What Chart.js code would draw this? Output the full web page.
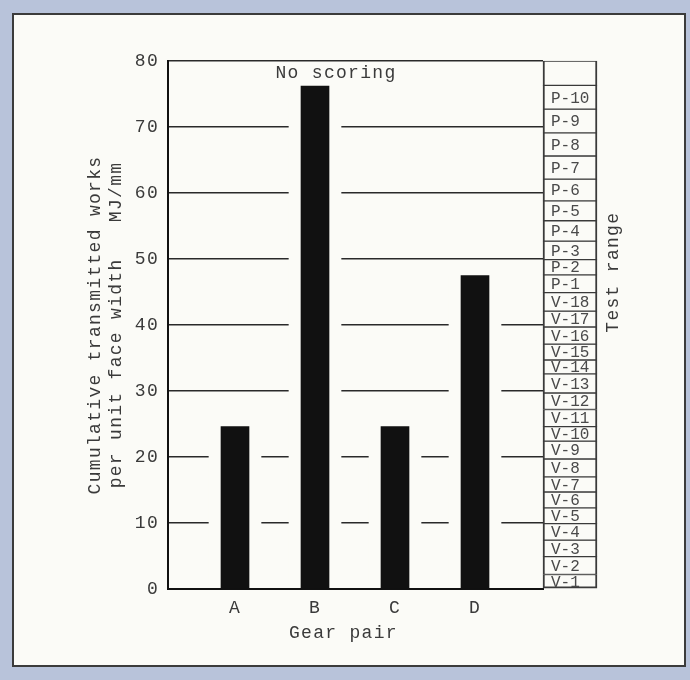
<!DOCTYPE html>
<html>
<head>
<meta charset="utf-8">
<script src="https://cdn.jsdelivr.net/npm/chart.js@4"></script>
<style>
  html, body { margin: 0; padding: 0; }
  body { width: 690px; height: 680px; background: #b8c3da; position: relative; overflow: hidden; }
  #panel { position: absolute; left: 12px; top: 13px; width: 674px; height: 654px; box-sizing: border-box;
           border: 2px solid #3b3b3b; background: #fbfbf7; }
  #gearChart { position: absolute; left: 0; top: 0; }
</style>
</head>
<body>
<div id="panel"></div>
<canvas id="gearChart" width="690" height="680"></canvas>
<script>
// gear pairs and cumulative transmitted work (MJ/mm)
const gearPairs = ['A', 'B', 'C', 'D'];
const cumulativeWork = [24.6, 76.2, 24.6, 47.5];

// test range column: stage names and their upper bounds (MJ/mm)
const testLabels = ['V-1', 'V-2', 'V-3', 'V-4', 'V-5', 'V-6', 'V-7', 'V-8', 'V-9', 'V-10',
    'V-11', 'V-12', 'V-13', 'V-14', 'V-15', 'V-16', 'V-17', 'V-18',
    'P-1', 'P-2', 'P-3', 'P-4', 'P-5', 'P-6', 'P-7', 'P-8', 'P-9', 'P-10', ''];
const testBounds = [0, 2.2, 4.9, 7.4, 9.9, 12.3, 14.7, 17.0, 19.7, 22.4, 24.6,
    27.2, 29.7, 32.6, 34.7, 37.1, 39.7, 42.1, 44.9, 47.6,
    49.9, 52.7, 55.8, 58.8, 62.1, 65.6, 69.1, 72.7, 76.3, 80];

const yTicks = [0, 10, 20, 30, 40, 50, 60, 70, 80];

const ink = '#3a3a3a';
const paper = '#fbfbf7';
const mono = "'Liberation Mono', 'DejaVu Sans Mono', monospace";

// x positions (linear scale, one unit per gear pair)
const xMin = -0.8375, xMax = 3.85;
const testColumnX = 4.1875;

const testBoxes = testLabels.map((l, i) => ({ x: testColumnX, y: [testBounds[i], testBounds[i + 1]] }));

const labelsPlugin = {
    id: 'labels',
    beforeDraw(chart) {
        chart.ctx.letterSpacing = '1.3px';
    },
    afterDatasetsDraw(chart) {
        const ctx = chart.ctx;
        const x = chart.scales.x, y = chart.scales.y;
        ctx.save();
        ctx.fillStyle = ink;
        ctx.textBaseline = 'middle';

        // No scoring
        ctx.font = '18px ' + mono;
        ctx.textAlign = 'center';
        ctx.fillText('No scoring', x.getPixelForValue(1.2625), y.getPixelForValue(78.2));

        // test range boxes
        ctx.letterSpacing = '0px';
        ctx.font = '16px ' + mono;
        ctx.textAlign = 'left';
        ctx.fillStyle = '#4a4a4a';
        const left = x.getPixelForValue(testColumnX) - 27;
        testLabels.forEach((l, i) => {
            const yc = (y.getPixelForValue(testBounds[i]) + y.getPixelForValue(testBounds[i + 1])) / 2;
            ctx.fillText(l, left + 8, yc + 1);
        });

        // Test range title
        ctx.letterSpacing = '1.3px';
        ctx.font = '18px ' + mono;
        ctx.fillStyle = ink;
        ctx.translate(x.getPixelForValue(4.725), y.getPixelForValue(48));
        ctx.rotate(-Math.PI / 2);
        ctx.textAlign = 'center';
        ctx.fillText('Test range', 0, 0);
        ctx.restore();
    }
};

new Chart(document.getElementById('gearChart'), {
    type: 'bar',
    data: {
        datasets: [
            {
                // white gaps in the grid around each bar
                data: cumulativeWork.map((v, i) => ({ x: i, y: [0.5, v] })),
                backgroundColor: paper,
                barThickness: 52,
                order: 3
            },
            {
                data: cumulativeWork.map((v, i) => ({ x: i, y: v })),
                backgroundColor: '#111',
                barThickness: 28,
                order: 2
            },
            {
                data: testBoxes,
                backgroundColor: paper,
                borderColor: ink,
                borderWidth: (c) => ({ top: 1, bottom: c.dataIndex === 0 ? 2 : 1, left: 2, right: 2 }),
                borderSkipped: false,
                barThickness: 54,
                clip: false,
                order: 1
            }
        ]
    },
    options: {
        responsive: false,
        animation: false,
        datasets: { bar: { grouped: false } },
        layout: { padding: { left: 74, top: 61, right: 147, bottom: 0 } },
        plugins: {
            legend: { display: false },
            tooltip: { enabled: false }
        },
        scales: {
            x: {
                type: 'linear',
                offset: false,
                min: xMin,
                max: xMax,
                afterFit: (s) => { s.height = 91; },
                afterBuildTicks: (s) => { s.ticks = gearPairs.map((g, i) => ({ value: i })); },
                grid: { display: false, drawTicks: false },
                border: { display: true, color: '#111', width: 2 },
                ticks: {
                    padding: 8,
                    color: ink,
                    font: { family: mono, size: 18 },
                    callback: (v) => gearPairs[v] ?? ''
                },
                title: {
                    display: true,
                    text: 'Gear pair  ',
                    color: ink,
                    font: { family: mono, size: 18 },
                    padding: { top: 0, bottom: 36 }
                }
            },
            y: {
                min: 0,
                max: 80,
                afterFit: (s) => { s.width = 94; },
                afterBuildTicks: (s) => { s.ticks = yTicks.map(v => ({ value: v })); },
                grid: { color: '#2a2a2a', lineWidth: 1.5, drawTicks: false },
                border: { display: true, color: '#111', width: 2 },
                ticks: {
                    padding: 9,
                    color: ink,
                    font: { family: mono, size: 18 }
                },
                title: {
                    display: true,
                    text: ['Cumulative transmitted works', 'per unit face width   MJ/mm'],
                    color: ink,
                    font: { family: mono, size: 18 },
                    padding: { top: 10, bottom: 0 }
                }
            }
        }
    },
    plugins: [labelsPlugin]
});
</script>
</body>
</html>
